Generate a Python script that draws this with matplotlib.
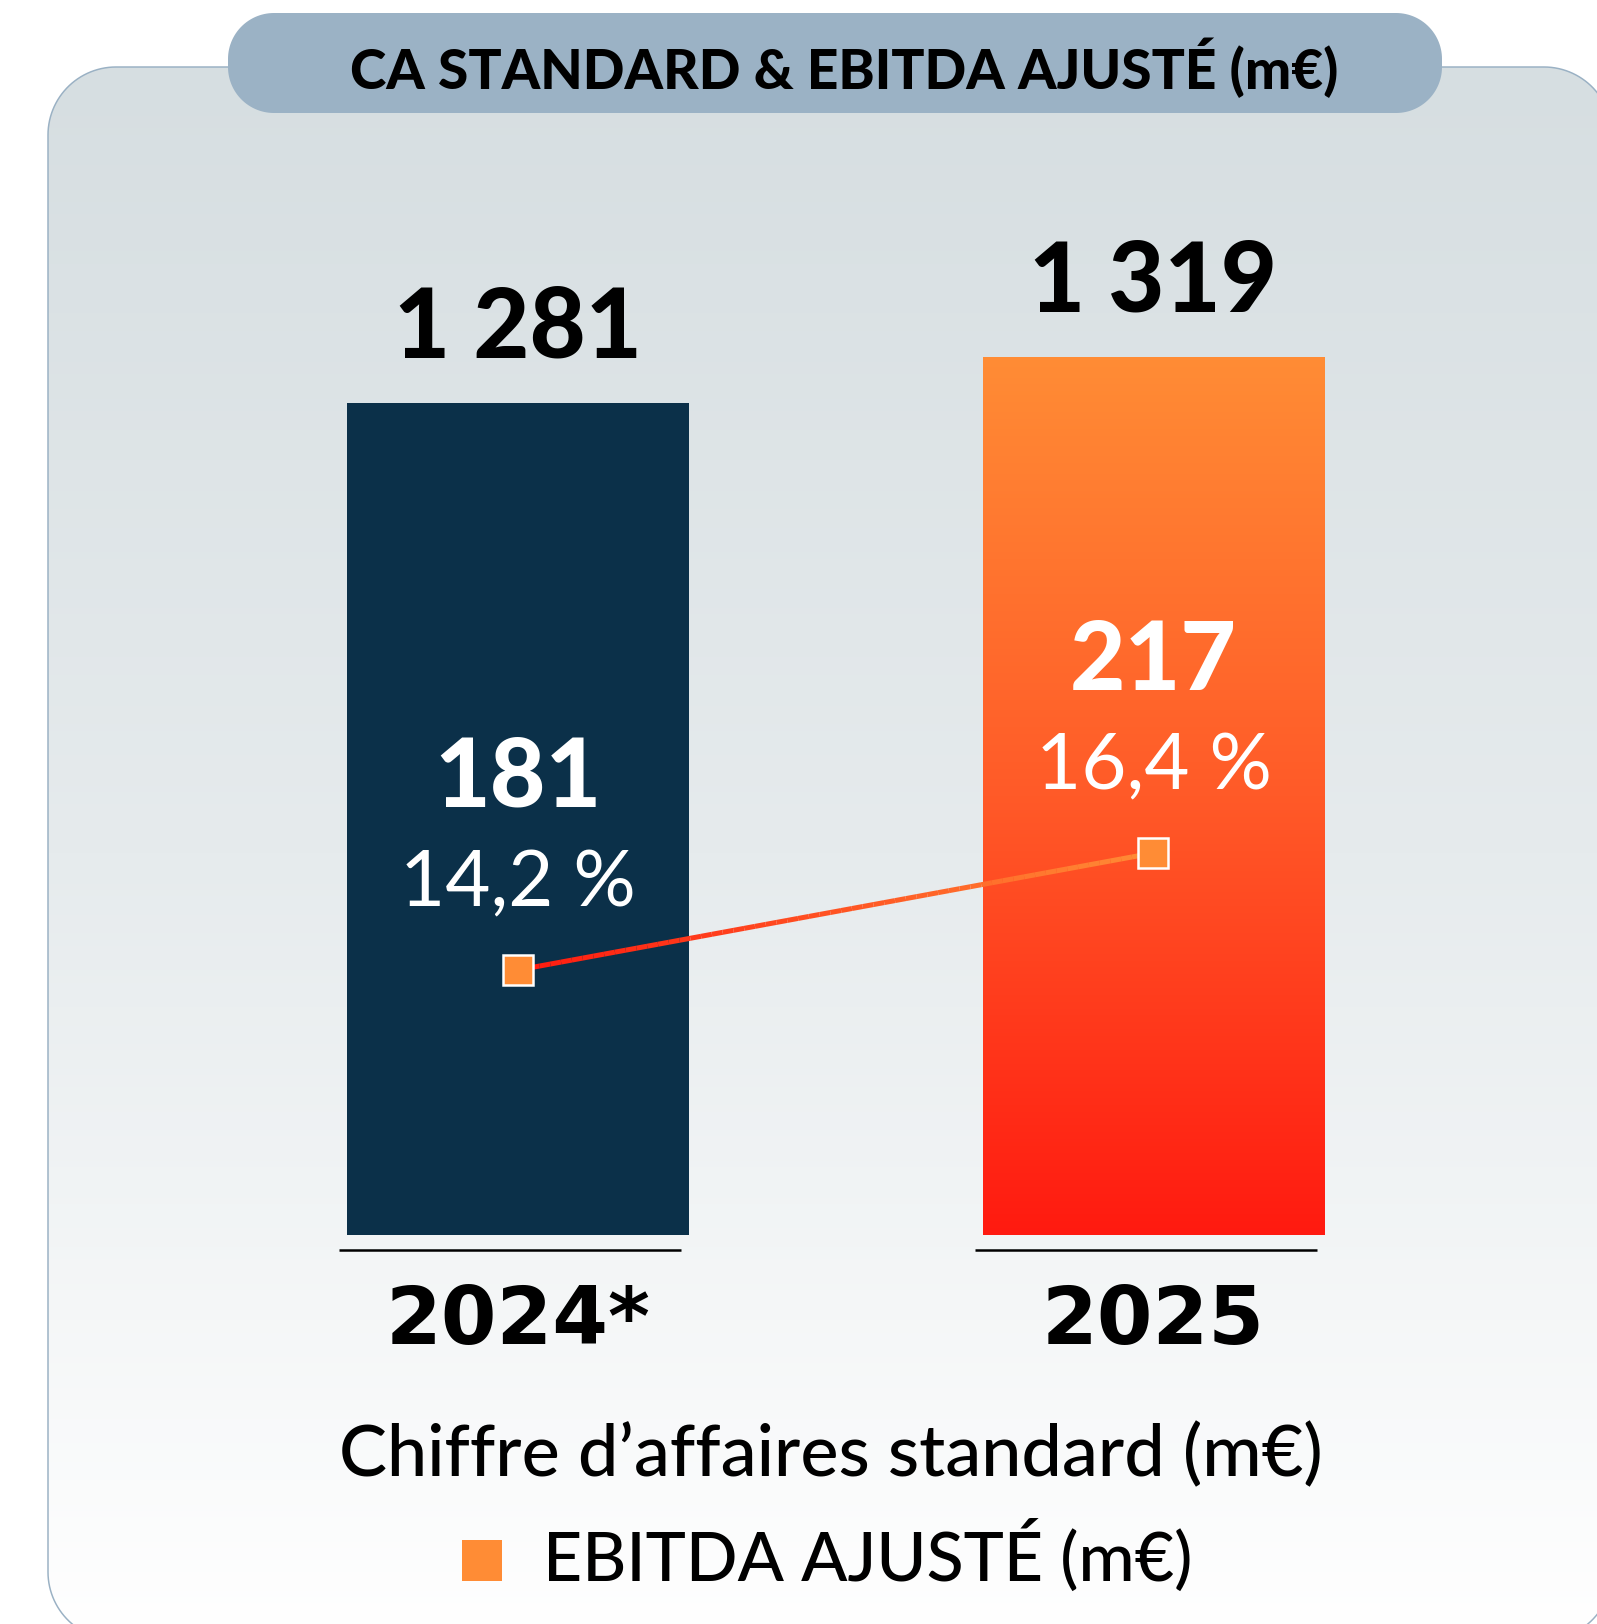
import numpy as np
import matplotlib.pyplot as plt
from matplotlib.patches import FancyBboxPatch, Rectangle, Polygon
from matplotlib.collections import LineCollection
from matplotlib.colors import LinearSegmentedColormap
import matplotlib.transforms as mtransforms

# data
years = ["2024*", "2025"]
revenue = [1281, 1319]
revenue_labels = ["1 281", "1 319"]
ebitda = [181, 217]
ebitda_labels = ["181", "217"]
margin = [14.2, 16.4]
margin_labels = ["14,2 %", "16,4 %"]

title = "CA STANDARD & EBITDA AJUSTÉ (m€)"
xlabel = "Chiffre d\u2019affaires standard (m€)"
legend_label = "EBITDA AJUSTÉ (m€)"

NAVY = "#0B3049"
ORANGE = "#FF8C35"
RED = "#FF1A10"
BANNER = "#9BB2C5"

W, H = 1597, 1624
DPI = 72  # 1 pt == 1 px
fig = plt.figure(figsize=(W / DPI, H / DPI), dpi=DPI)
fig.patch.set_facecolor("white")


def px_axes(left, top, right, bottom):
    return fig.add_axes([left / W, 1 - bottom / H, (right - left) / W, (bottom - top) / H])


def rounded_rect(x0, y0, x1, y1, r, n=30):
    # polygon outline of a rounded rectangle (pixel coords, y down)
    pts = []
    corners = [(x1 - r, y0 + r, -90, 0), (x1 - r, y1 - r, 0, 90),
               (x0 + r, y1 - r, 90, 180), (x0 + r, y0 + r, 180, 270)]
    for cx, cy, a0, a1 in corners:
        a = np.radians(np.linspace(a0, a1, n))
        pts.extend(zip(cx + r * np.cos(a), cy + r * np.sin(a)))
    return np.array(pts)


# background panel + banner, in pixel coords
bg = fig.add_axes([0, 0, 1, 1])
panel = Polygon(rounded_rect(48, 67, 1612, 1640, 68), closed=True,
                facecolor="none", edgecolor="#9AB1C4", linewidth=1.5, zorder=2)
bg.add_patch(panel)
bg_cmap = LinearSegmentedColormap.from_list("bg", ["#D6DEE1", "#E6EBED", "#FFFFFF"])
grad = np.linspace(0, 1, 256).reshape(-1, 1)
img = bg.imshow(grad, cmap=bg_cmap, extent=(48, 1612, 1640, 67), origin="upper",
                aspect="auto", zorder=1)
img.set_clip_path(panel)
bg.add_patch(Polygon(rounded_rect(228, 13, 1442, 113, 46), closed=True,
                     facecolor=BANNER, edgecolor="none", zorder=3))
bg.set_xlim(0, W)
bg.set_ylim(H, 0)
bg.axis("off")

bg.text(844, 89, title, ha="center", va="baseline", fontsize=55, fontweight="black",
        family="Lato", color="black", zorder=4)
bg.text(831, 1476, xlabel, ha="center", va="baseline", fontsize=72, fontweight="medium",
        family="Lato", color="black")
bg.add_patch(Rectangle((462, 1540), 40, 41, facecolor=ORANGE, edgecolor="none"))
bg.text(543, 1581, legend_label, ha="left", va="baseline", fontsize=68, fontweight="medium",
        family="Lato", color="black")

# bars
ax = px_axes(136.7, 140, 1534.8, 1235)
ax.patch.set_visible(False)
x = np.arange(len(years))
width = 0.538
ybot = 594
ylim = (ybot, ybot + 1095 / 1.2105)
bars = ax.bar(x, revenue, width=width, color=[NAVY, ORANGE], zorder=2)

bar_cmap = LinearSegmentedColormap.from_list("bar", [ORANGE, "#FF5A28", RED])
b = bars[1]
gimg = ax.imshow(grad, cmap=bar_cmap, extent=(b.get_x(), b.get_x() + b.get_width(), ybot, b.get_height()),
                 origin="upper", aspect="auto", zorder=3)
gimg.set_clip_path(b)
ax.set_xlim(-0.6, 1.6)
ax.set_ylim(*ylim)
ax.axis("off")

trans = mtransforms.blended_transform_factory(ax.transData, ax.transAxes)
for i in x:
    ax.annotate(revenue_labels[i], (i, revenue[i]), xytext=(0, 46), textcoords="offset points",
                ha="center", va="baseline", fontsize=97, fontweight="black", family="Lato",
                color="black", annotation_clip=False)
    ax.annotate(years[i], (i, 0), xycoords=trans, xytext=(0, -109), textcoords="offset points",
                ha="center", va="baseline", fontsize=80, fontweight="bold", family="DejaVu Sans",
                color="black", annotation_clip=False)
    ax.plot([i - width / 2 - 0.012, i + width / 2 - 0.012], [-15 / 1095, -15 / 1095],
            transform=trans, color="black", lw=2.5, clip_on=False, solid_capstyle="butt")

# EBITDA margin line on its own scale
ax2 = ax.twinx()
ax2.set_ylim(9.217, 29.807)
ax2.set_xlim(-0.6, 1.6)
ax2.axis("off")
n = 60
xs = np.linspace(x[0], x[1], n)
ys = np.linspace(margin[0], margin[1], n)
pts = np.column_stack([xs, ys]).reshape(-1, 1, 2)
segs = np.concatenate([pts[:-1], pts[1:]], axis=1)
line_cmap = LinearSegmentedColormap.from_list("line", [RED, ORANGE])
lc = LineCollection(segs, colors=line_cmap(np.linspace(0, 1, n - 1)), linewidths=5, zorder=4)
ax2.add_collection(lc)
ax2.plot(x, margin, ls="none", marker="s", markersize=30, markerfacecolor=ORANGE,
         markeredgecolor="white", markeredgewidth=2.5, zorder=5)

for i in x:
    ax2.annotate(ebitda_labels[i], (i, margin[i]), xytext=(0, 163), textcoords="offset points",
                 ha="center", va="baseline", fontsize=96, fontweight="black", family="Lato",
                 color="white")
    ax2.annotate(margin_labels[i], (i, margin[i]), xytext=(0, 64), textcoords="offset points",
                 ha="center", va="baseline", fontsize=78, fontweight="normal", family="Lato",
                 color="white")

fig.savefig("out.png", dpi=DPI)
